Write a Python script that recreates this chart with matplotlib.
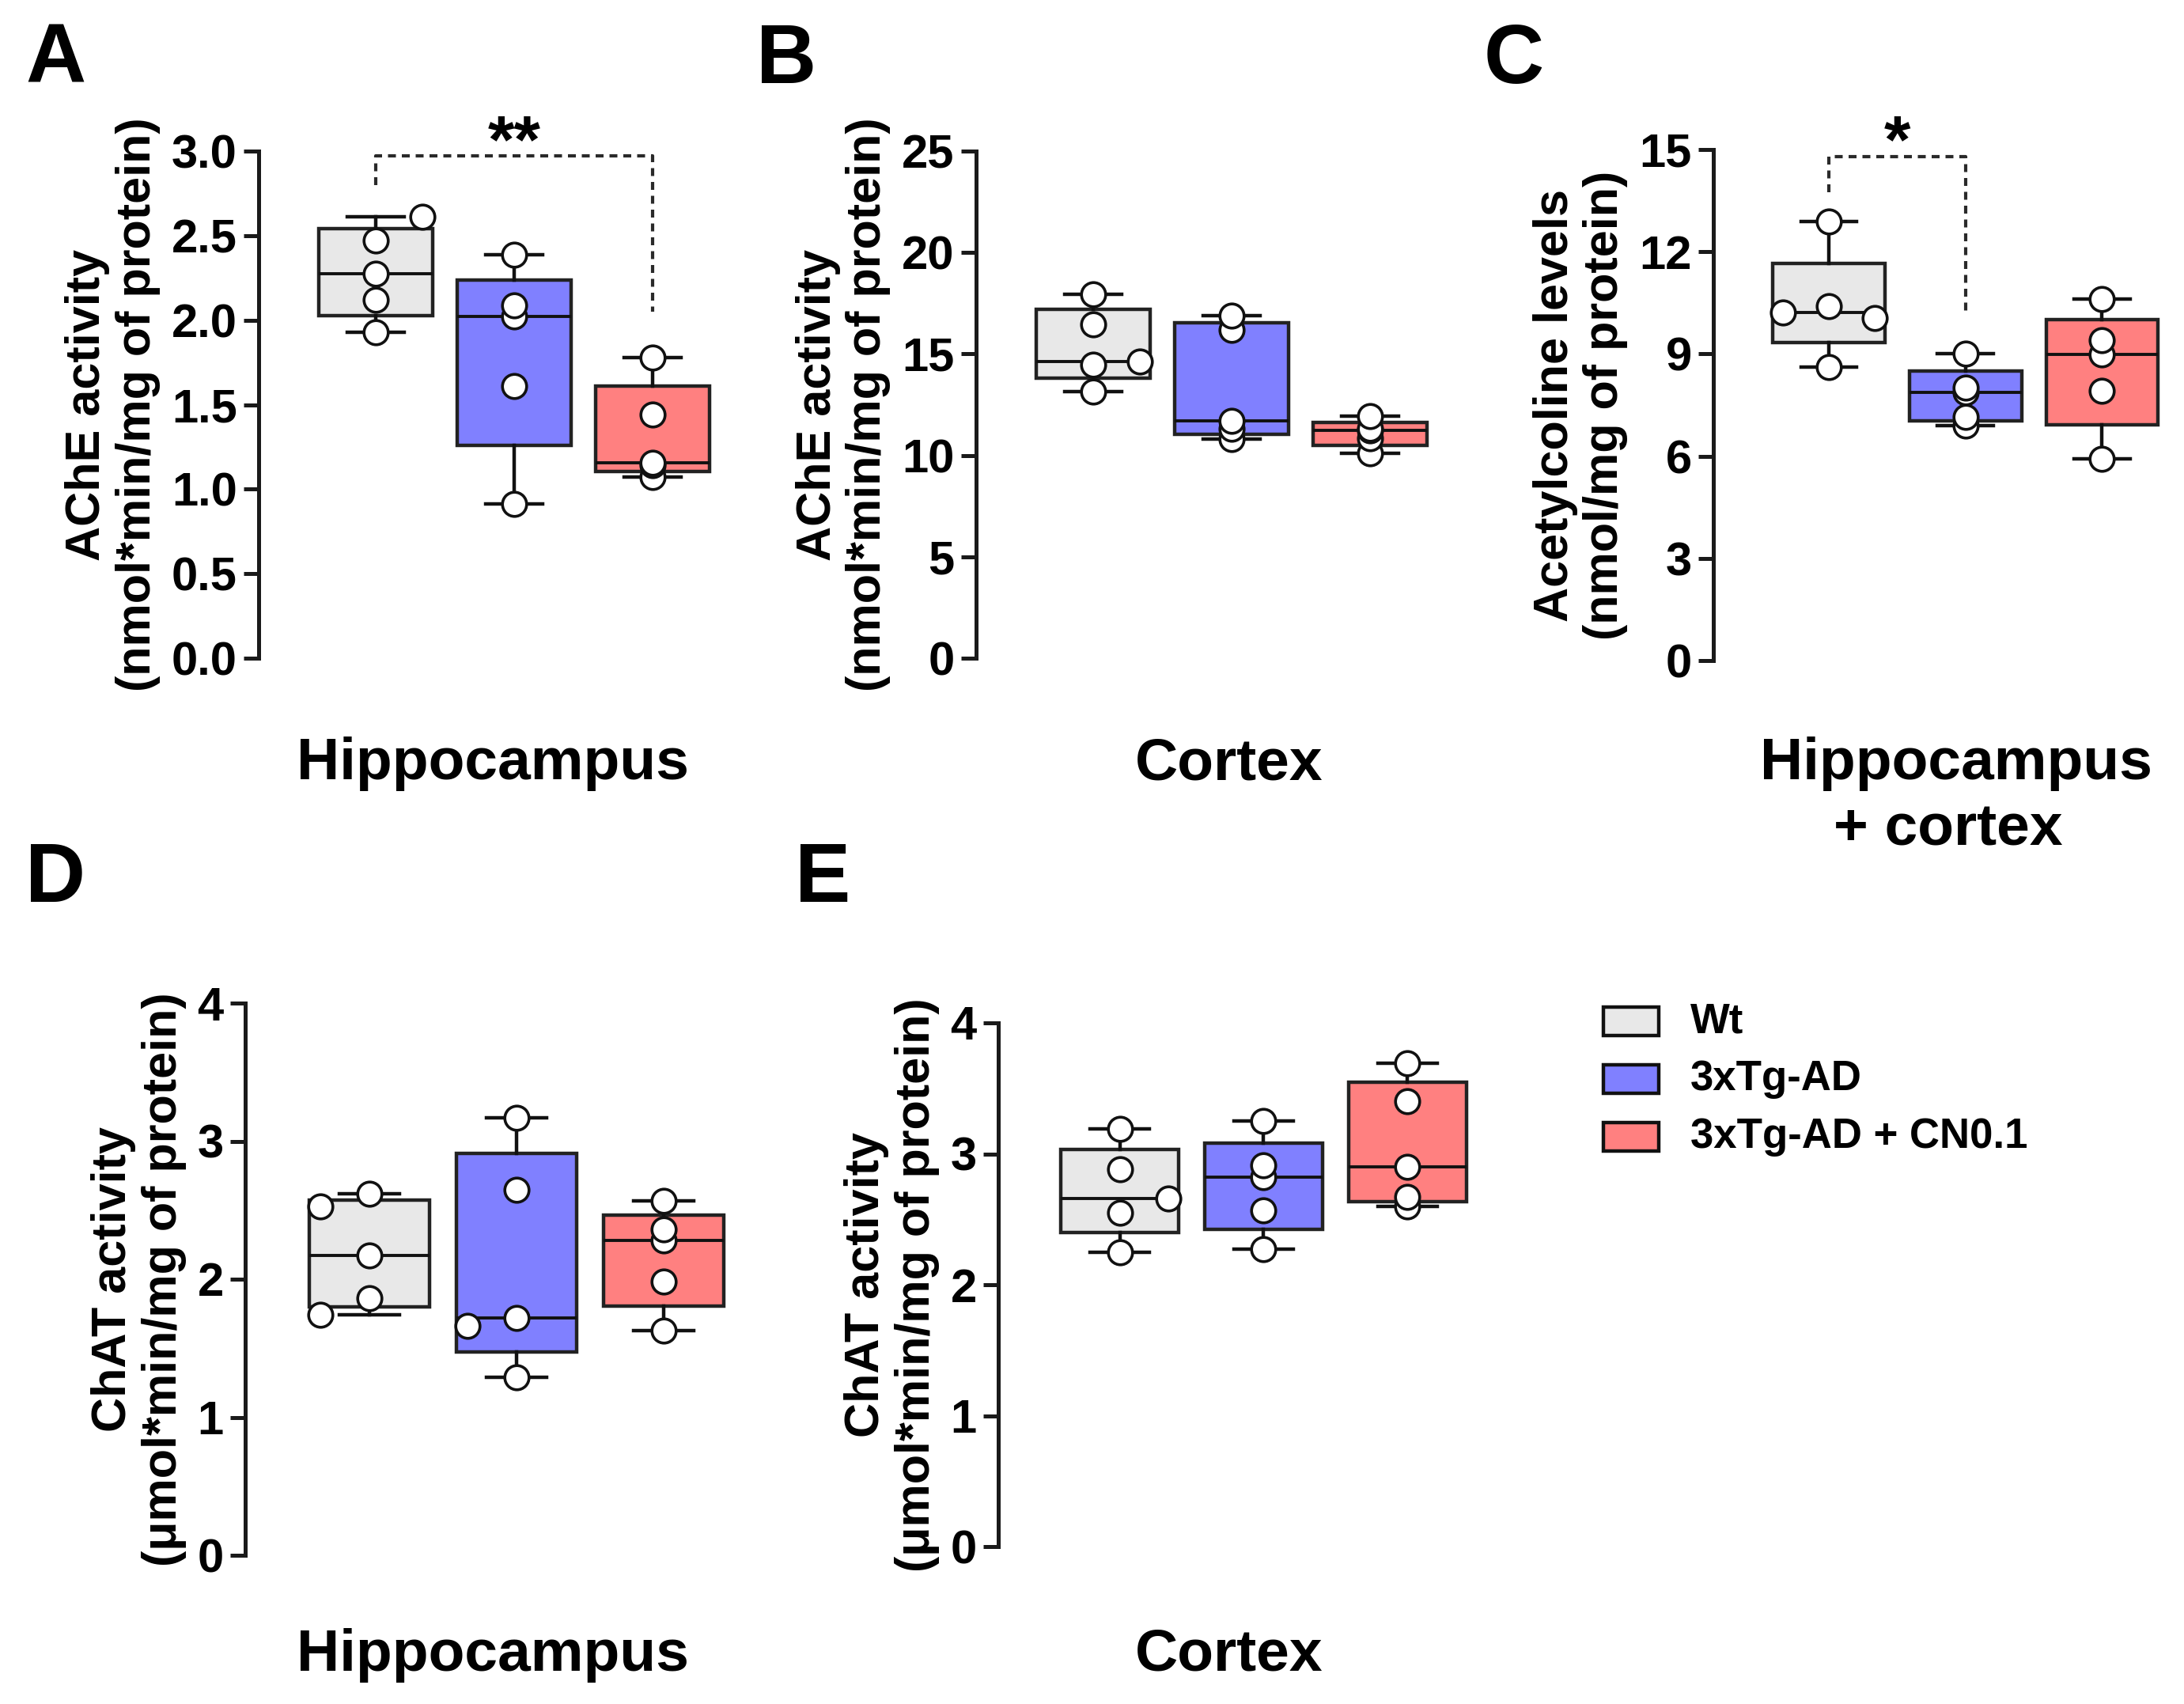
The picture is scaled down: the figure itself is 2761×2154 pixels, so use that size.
import numpy as np
import matplotlib.pyplot as plt
from matplotlib.patches import Rectangle

plt.rcParams['font.family'] = ['Liberation Sans', 'DejaVu Sans']
plt.rcParams['font.weight'] = 'bold'

groups = ['Wt', '3xTg-AD', '3xTg-AD + CN0.1']
colors = ['#e8e8e8', '#8080ff', '#ff8080']

# A - AChE activity, hippocampus
ache_hip_wt = [1.93, 2.12, 2.275, 2.47, 2.61]
ache_hip_tg = [0.913, 1.608, 2.02, 2.087, 2.386]
ache_hip_cn = [1.07, 1.14, 1.155, 1.44, 1.78]
# B - AChE activity, cortex
ache_ctx_wt = [13.16, 14.46, 14.61, 16.46, 17.96]
ache_ctx_tg = [10.8, 11.3, 11.7, 16.2, 16.9]
ache_ctx_cn = [10.1, 10.85, 11.25, 11.3, 11.95]
# C - acetylcholine, hippocampus + cortex
ach_wt = [8.62, 12.89, 10.41, 10.21, 10.05]
ach_tg = [6.9, 7.15, 7.87, 8.0, 9.0]
ach_cn = [5.92, 7.92, 8.98, 9.4, 10.62]
# D - ChAT activity, hippocampus
chat_hip_wt = [2.17, 2.62, 2.53, 1.86, 1.74]
chat_hip_tg = [3.17, 2.65, 1.29, 1.72, 1.66]
chat_hip_cn = [1.63, 1.98, 2.28, 2.36, 2.57]
# E - ChAT activity, cortex
chat_ctx_wt = [2.25, 2.55, 2.66, 2.88, 3.19]
chat_ctx_tg = [2.27, 2.57, 2.82, 2.91, 3.25]
chat_ctx_cn = [2.6, 2.67, 2.9, 3.4, 3.69]

ticks_a = [0.0, 0.5, 1.0, 1.5, 2.0, 2.5, 3.0]
ticks_b = [0, 5, 10, 15, 20, 25]
ticks_c = [0, 3, 6, 9, 12, 15]
ticks_de = [0, 1, 2, 3, 4]

ylab_ache = 'AChE activity\n(nmol*min/mg of protein)'
ylab_ach = 'Acetylcoline levels\n(nmol/mg of protein)'
ylab_chat = 'ChAT activity\n(\u03bcmol*min/mg of protein)'

# significance brackets: (group from, group to, y left, y top, y right, label)
sig_a = (0, 2, 2.80, 2.97, 2.05, '**')
sig_c = (0, 1, 13.75, 14.8, 10.17, '*')

W, H = 2761, 2154
fig = plt.figure(figsize=(W / 100, H / 100), dpi=100)

XLIM = (-0.845, 2.565)
DIAM = 31      # marker diameter, px
STEP = 0.335   # horizontal spread step, in group units


def quart(v):
    q1, med, q3 = np.percentile(v, [25, 50, 75], method='weibull')
    return dict(med=med, q1=q1, q3=q3, whislo=min(v), whishi=max(v), fliers=[])


def spread(vals, pxu, pxx, on):
    # place overlapping points side by side, like a column scatter
    placed = []
    for v in vals:
        x = 0.0
        if on:
            hit = [p for p in placed if np.hypot(p[0] * pxx, (p[1] - v) * pxu) < DIAM]
            if hit:
                side = 1 if v > hit[0][1] else -1
                for k in [side, -side, 2 * side, -2 * side]:
                    if all(np.hypot((k * STEP - p[0]) * pxx, (v - p[1]) * pxu) >= DIAM
                           for p in placed):
                        x = k * STEP
                        break
        placed.append((x, v))
    return [p[0] for p in placed]


panels = [
    # letter, data, ticks, fmt, ylabel, px box (l, t, r, b), spread flags, sig
    ('A', [ache_hip_wt, ache_hip_tg, ache_hip_cn], ticks_a, '%.1f', ylab_ache,
     (327, 191, 924, 832), [True, False, False], sig_a),
    ('B', [ache_ctx_wt, ache_ctx_tg, ache_ctx_cn], ticks_b, '%d', ylab_ache,
     (1234, 191, 1831, 832), [True, False, False], None),
    ('C', [ach_wt, ach_tg, ach_cn], ticks_c, '%d', ylab_ach,
     (2166, 189, 2755, 835), [True, False, False], sig_c),
    ('D', [chat_hip_wt, chat_hip_tg, chat_hip_cn], ticks_de, '%d', ylab_chat,
     (310, 1268, 944, 1966), [True, True, False], None),
    ('E', [chat_ctx_wt, chat_ctx_tg, chat_ctx_cn], ticks_de, '%d', ylab_chat,
     (1262, 1293, 1882, 1955), [True, False, False], None),
]

for letter, data, ticks, fmt, ylab, (l, t, r, b), flags, sig in panels:
    ax = fig.add_axes([l / W, 1 - b / H, (r - l) / W, (b - t) / H])
    ymax = ticks[-1]
    ax.set_xlim(*XLIM)
    ax.set_ylim(0, ymax)
    pxu = (b - t) / ymax
    pxx = (r - l) / (XLIM[1] - XLIM[0])

    bp = ax.bxp([quart(v) for v in data], positions=[0, 1, 2], widths=0.82,
                capwidths=0.41, patch_artist=True, showfliers=False,
                boxprops=dict(edgecolor='#222222', linewidth=3.2),
                medianprops=dict(color='#111111', linewidth=2.8),
                whiskerprops=dict(color='#111111', linewidth=3.2),
                capprops=dict(color='#111111', linewidth=3.2))
    for patch, c in zip(bp['boxes'], colors):
        patch.set_facecolor(c)
    for i, v in enumerate(data):
        offs = spread(v, pxu, pxx, flags[i])
        ax.plot(np.array(offs) + i, v, 'o', ms=22, mfc='white', mec='#111111',
                mew=2.6, clip_on=False, zorder=5)

    if sig is not None:
        g0, g1, y0, ytop, y1, lab = sig
        ax.plot([g0, g0, g1, g1], [y0, ytop, ytop, y1], color='#2a2a2a', lw=3.0,
                linestyle=(0, (2.4, 1.8)), clip_on=False)
        ax.text((g0 + g1) / 2, ytop - ymax * 0.012, lab, ha='center', va='baseline',
                fontsize=62, fontweight='bold')

    for s in ['top', 'right', 'bottom']:
        ax.spines[s].set_visible(False)
    ax.spines['left'].set_linewidth(3.6)
    ax.spines['left'].set_color('#1a1a1a')
    ax.set_xticks([])
    ax.set_yticks(ticks)
    ax.set_yticklabels([fmt % tk for tk in ticks])
    ax.tick_params(axis='y', length=13.7, width=3.6, pad=6, labelsize=43, color='#1a1a1a')
    ax.set_ylabel(ylab, fontsize=44, fontweight='bold', labelpad=10, linespacing=1.15)

# panel letters
for letter, x, y in [('A', 32, 105), ('B', 956, 105), ('C', 1876, 105),
                     ('D', 32, 1140), ('E', 1005, 1140)]:
    fig.text(x / W, 1 - y / H, letter, fontsize=76, fontweight='bold',
             ha='left', va='baseline')

# region labels under each panel
for lab, x, y in [('Hippocampus', 623, 985), ('Cortex', 1554, 985),
                  ('Hippocampus', 2473, 985), ('+ cortex', 2463, 1068),
                  ('Hippocampus', 623, 2112), ('Cortex', 1554, 2112)]:
    fig.text(x / W, 1 - y / H, lab, fontsize=54, fontweight='bold',
             ha='center', va='baseline')

# legend
for k, (g, c) in enumerate(zip(groups, colors)):
    yc = 1291 + 73 * k
    fig.add_artist(Rectangle((2027 / W, 1 - (yc + 18) / H), 70 / W, 36 / H,
                             transform=fig.transFigure, facecolor=c,
                             edgecolor='#111111', linewidth=3.2))
    fig.text(2137 / W, 1 - yc / H, g, fontsize=38, fontweight='bold',
             ha='left', va='center')

fig.savefig('out.png', dpi=100)
